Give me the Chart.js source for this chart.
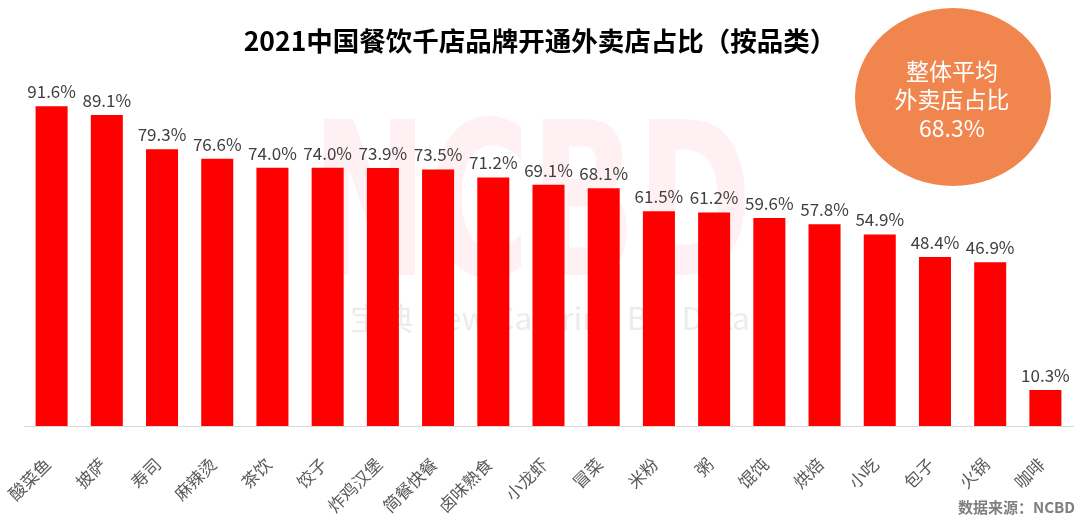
<!DOCTYPE html>
<html><head><meta charset="utf-8">
<script src="https://cdn.jsdelivr.net/npm/chart.js@4.4.1/dist/chart.umd.min.js"></script>
<style>html,body{margin:0;padding:0;background:#fff}#wrap{width:1080px;height:524px;position:relative}</style>
</head><body><div id="wrap"><canvas id="c" width="1080" height="524"></canvas></div>
<script>
const categories = ['酸菜鱼','披萨','寿司','麻辣烫','茶饮','饺子','炸鸡汉堡','简餐快餐','卤味熟食','小龙虾','冒菜','米粉','粥','馄饨','烘焙','小吃','包子','火锅','咖啡'];
const shareValues = [91.6,89.1,79.3,76.6,74.0,74.0,73.9,73.5,71.2,69.1,68.1,61.5,61.2,59.6,57.8,54.9,48.4,46.9,10.3];
const titleText = '2021中国餐饮千店品牌开通外卖店占比（按品类）';
const averageLines = ['整体平均','外卖店占比','68.3%'];
const sourceText = '数据来源：NCBD';
const FONT = '"Noto Sans CJK SC","Noto Sans",sans-serif';

const decor = {
  id:'decor',
  beforeDatasetsDraw(chart){
    const ctx = chart.ctx;
    ctx.save();
    ctx.font = 'bold 200px "DejaVu Sans",sans-serif';
    ctx.fillStyle = 'rgba(255,0,50,0.06)';
    ctx.textAlign='left'; ctx.textBaseline='alphabetic';
    const w = ctx.measureText('NCBD').width;
    ctx.translate(311, 275);
    ctx.scale(441/w, 156/146);
    ctx.fillText('NCBD', 0, 0);
    ctx.restore();
    ctx.save();
    ctx.font = '31px ' + FONT;
    ctx.fillStyle = '#ececec';
    ctx.textAlign='left'; ctx.textBaseline='alphabetic';
    const wm = '宝典 New Catering Big Data';
    const w2 = ctx.measureText(wm).width;
    ctx.translate(350, 330);
    ctx.scale(400/w2, 1);
    ctx.fillText(wm, 0, 0);
    ctx.restore();
  },
  afterDatasetsDraw(chart){
    const ctx = chart.ctx;
    const meta = chart.getDatasetMeta(0);
    ctx.save();
    ctx.font = '17px ' + FONT;
    ctx.fillStyle = '#404040';
    ctx.textAlign='center'; ctx.textBaseline='bottom';
    meta.data.forEach((bar,i)=>{
      ctx.fillText(shareValues[i].toFixed(1)+'%', bar.x, bar.y - 6);
    });
    ctx.font = 'bold 26.5px ' + FONT;
    ctx.fillStyle = '#000';
    ctx.textBaseline='middle';
    ctx.fillText(titleText, 540, 41);
    ctx.fillStyle = '#F0854E';
    ctx.beginPath();
    ctx.ellipse(953, 97, 98, 89, 0, 0, Math.PI*2);
    ctx.fill();
    ctx.fillStyle = '#fff';
    ctx.font = '23px ' + FONT;
    averageLines.forEach((t,i)=>ctx.fillText(t, 952, 71 + i*28.5));
    ctx.font = 'bold 15px ' + FONT;
    ctx.fillStyle = '#7f7f7f';
    ctx.textAlign='right';
    ctx.fillText(sourceText, 1075, 507);
    ctx.restore();
  }
};

new Chart(document.getElementById('c'), {
  type:'bar',
  data:{labels:categories, datasets:[{data:shareValues, backgroundColor:'#FF0000', borderWidth:0, barPercentage:0.58, categoryPercentage:1}]},
  options:{
    responsive:false, animation:false, devicePixelRatio:1,
    layout:{padding:{top:77,left:24,right:7,bottom:0}},
    plugins:{legend:{display:false}, tooltip:{enabled:false}, title:{display:false}},
    scales:{
      y:{display:false, min:0, max:100},
      x:{
        grid:{display:false, drawTicks:false},
        border:{display:true, color:'#d9d9d9', width:1},
        ticks:{maxRotation:45, minRotation:45, padding:28, labelOffset:-4, color:'#595959', font:{size:17, family:FONT}},
        afterFit(s){ s.height = 98; s.paddingLeft = 0; s.paddingRight = 0; }
      }
    }
  },
  plugins:[decor]
});
</script></body></html>
